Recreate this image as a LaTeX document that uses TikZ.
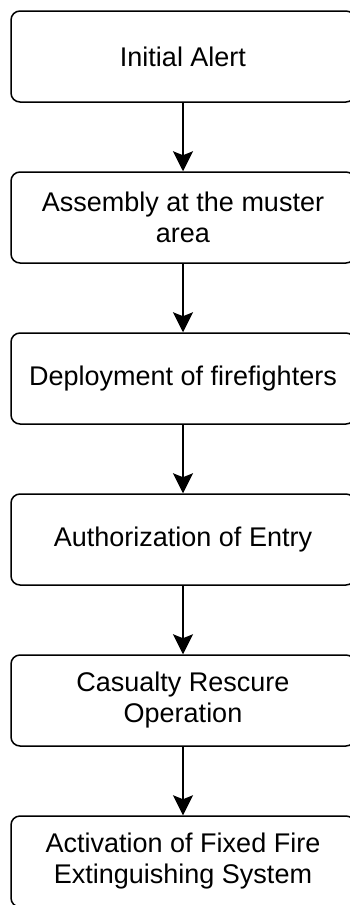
\documentclass[tikz,border=0pt]{standalone}
\usepackage{fontspec}
\setmainfont{Liberation Sans}
\usetikzlibrary{arrows.meta}
\begin{document}
\begin{tikzpicture}[x=1pt,y=1pt]
    \tikzstyle{every node}+=[inner sep=0pt]
    \tikzstyle{stage}=[draw=black, line width=1.5pt, rounded corners=9pt, minimum width=344pt, minimum height=91pt, align=center, font=\fontsize{27}{31}\selectfont]
    \tikzstyle{flow}=[black, line width=1.5pt, -{Stealth[length=20pt,width=20pt,inset=4pt]}]
    \useasboundingbox (0,0) rectangle (350,-905);
    \node [stage] (alert) at (183,-56.5) {Initial Alert};
    \node [stage] (muster) at (183,-217.5) {Assembly at the muster\\area};
    \node [stage] (deploy) at (183,-378.5) {Deployment of firefighters};
    \node [stage] (entry) at (183,-539.5) {Authorization of Entry};
    \node [stage] (rescue) at (183,-700.5) {Casualty Rescure\\Operation};
    \node [stage] (fixed) at (183,-861.5) {Activation of Fixed Fire\\Extinguishing System};
    \draw [flow] (alert) -- (muster);
    \draw [flow] (muster) -- (deploy);
    \draw [flow] (deploy) -- (entry);
    \draw [flow] (entry) -- (rescue);
    \draw [flow] (rescue) -- (fixed);
\end{tikzpicture}
\end{document}
